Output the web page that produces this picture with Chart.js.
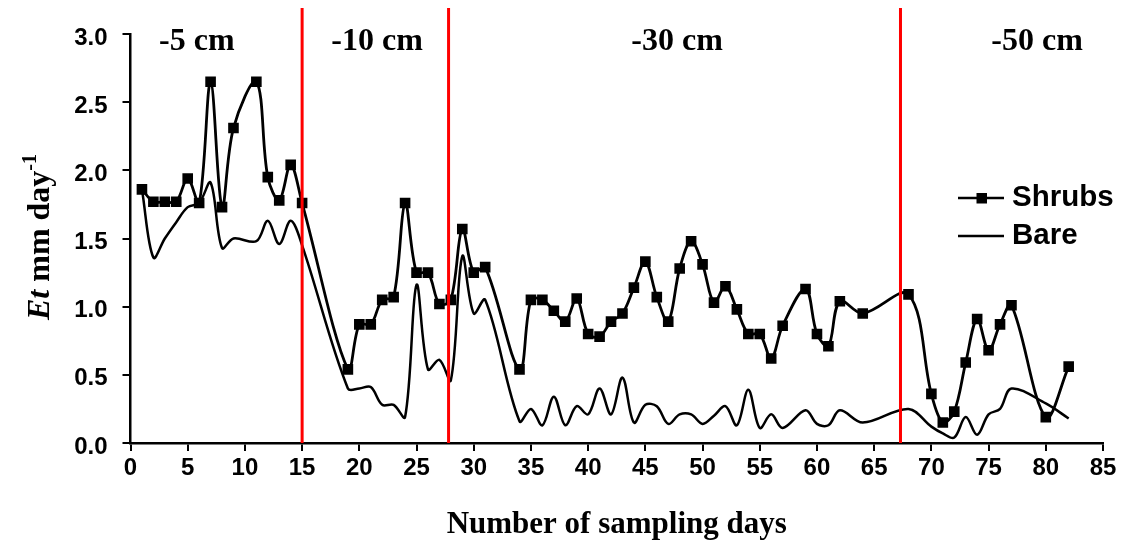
<!DOCTYPE html>
<html>
<head>
<meta charset="utf-8">
<script src="https://cdn.jsdelivr.net/npm/chart.js@4.4.1/dist/chart.umd.min.js"></script>
<style>
html,body{margin:0;padding:0;background:#ffffff;}
#wrap{width:1125px;height:540px;position:relative;}
</style>
</head>
<body>
<div id="wrap"><canvas id="c" width="1125" height="540"></canvas></div>
<script>
// ---- data ----
const shrubDays = [1,2,3,4,5,6,7,8,9,11,12,13,14,15,19,20,21,22,23,24,25,26,27,28,29,30,31,34,35,36,37,38,39,40,41,42,43,44,45,46,47,48,49,50,51,52,53,54,55,56,57,59,60,61,62,64,68,70,71,72,73,74,75,76,77,80,82];
const shrubValues = [1.86,1.77,1.77,1.77,1.94,1.76,2.65,1.73,2.31,2.65,1.95,1.78,2.04,1.76,0.54,0.87,0.87,1.05,1.07,1.76,1.25,1.25,1.02,1.05,1.57,1.25,1.29,0.54,1.05,1.05,0.97,0.89,1.06,0.80,0.78,0.89,0.95,1.14,1.33,1.07,0.89,1.28,1.48,1.31,1.03,1.15,0.98,0.80,0.80,0.62,0.86,1.13,0.80,0.71,1.04,0.95,1.09,0.36,0.15,0.23,0.59,0.91,0.68,0.87,1.01,0.19,0.56];
const bareDays = [1,2,3,4,5,6,7,8,9,11,12,13,14,15,19,20,21,22,23,24,25,26,27,28,29,30,31,34,35,36,37,38,39,40,41,42,43,44,45,46,47,48,49,50,51,52,53,54,55,56,57,59,60,61,62,64,68,70,71,72,73,74,75,76,77,80,82];
const bareValues = [1.86,1.36,1.50,1.62,1.73,1.76,1.91,1.43,1.50,1.48,1.63,1.46,1.63,1.45,0.40,0.40,0.41,0.28,0.28,0.19,1.16,0.54,0.61,0.46,1.37,0.95,1.05,0.16,0.25,0.13,0.34,0.13,0.27,0.21,0.40,0.21,0.48,0.15,0.28,0.27,0.14,0.21,0.21,0.14,0.20,0.27,0.13,0.39,0.11,0.21,0.11,0.24,0.14,0.13,0.24,0.15,0.25,0.12,0.07,0.04,0.19,0.06,0.21,0.25,0.40,0.29,0.18];
const seriesNames = ['Shrubs','Bare'];
const depthBoundaries = [15, 27.8, 67.3];
const depthLabels = ['-5 cm','-10 cm','-30 cm','-50 cm'];
const depthLabelDays = [5.8, 21.55, 47.77, 79.24];
const xTitle = 'Number of sampling days';

// ---- layout / style constants ----
const redLineTop = 3.19;

const boundaryDatasets = depthBoundaries.map(b => ({
  label: 'boundary',
  data: [{x: b, y: 0}, {x: b, y: redLineTop}],
  borderColor: '#ff0000',
  borderWidth: 3,
  pointRadius: 0,
  tension: 0,
  clip: false,
  order: 1
}));

const annotate = {
  id: 'annotate',
  afterDraw(chart) {
    const {ctx, scales: {x}} = chart;
    ctx.save();
    ctx.fillStyle = '#000';
    // depth labels
    ctx.font = 'bold 32px "Liberation Serif"';
    ctx.textAlign = 'center';
    ctx.textBaseline = 'alphabetic';
    depthLabels.forEach((t, i) => ctx.fillText(t, x.getPixelForValue(depthLabelDays[i]), 50));
    // legend
    ctx.strokeStyle = '#000';
    ctx.lineWidth = 2.6;
    ctx.beginPath(); ctx.moveTo(958, 198); ctx.lineTo(1004, 198); ctx.stroke();
    ctx.fillRect(976.5, 193, 10.5, 10.5);
    ctx.beginPath(); ctx.moveTo(958, 236); ctx.lineTo(1004, 236); ctx.stroke();
    ctx.font = 'bold 29.5px "Liberation Sans"';
    ctx.textAlign = 'left';
    ctx.fillText(seriesNames[0], 1012, 206);
    ctx.fillText(seriesNames[1], 1012, 244);
    // y-axis title
    ctx.translate(38, 237);
    ctx.rotate(-Math.PI / 2);
    const parts = [
      {t: 'Et', f: 'italic bold 32px "Liberation Serif"', dy: 0},
      {t: ' mm day', f: 'bold 32px "Liberation Serif"', dy: 0},
      {t: '-1', f: 'bold 20px "Liberation Serif"', dy: -13}
    ];
    let total = 0;
    parts.forEach(p => { ctx.font = p.f; p.w = ctx.measureText(p.t).width; total += p.w; });
    let cx = -total / 2;
    parts.forEach(p => { ctx.font = p.f; ctx.fillText(p.t, cx, 11 + p.dy); cx += p.w; });
    ctx.restore();
  }
};

new Chart(document.getElementById('c'), {
  type: 'line',
  data: {
    datasets: [
      ...boundaryDatasets,
      {
        label: seriesNames[0],
        data: shrubDays.map((d, i) => ({x: d, y: shrubValues[i]})),
        borderColor: '#000',
        borderWidth: 2.8,
        tension: 0.35,
        pointStyle: 'rect',
        pointRadius: 7.5,
        pointBackgroundColor: '#000',
        pointBorderWidth: 0,
        order: 2
      },
      {
        label: seriesNames[1],
        data: bareDays.map((d, i) => ({x: d, y: bareValues[i]})),
        borderColor: '#000',
        borderWidth: 2.5,
        tension: 0.35,
        pointRadius: 0,
        order: 3
      }
    ]
  },
  options: {
    responsive: false,
    animation: false,
    layout: {padding: {left: 0, right: 22, top: 34, bottom: 0}},
    plugins: {legend: {display: false}, tooltip: {enabled: false}},
    scales: {
      x: {
        type: 'linear', min: 0, max: 85,
        ticks: {stepSize: 5, color: '#000', padding: 3, maxRotation: 0,
                font: {family: '"Liberation Sans"', weight: 'bold', size: 24}},
        grid: {display: true, drawOnChartArea: false, drawTicks: true, tickLength: 8, color: '#000', lineWidth: 2},
        border: {display: true, color: '#000', width: 2.5},
        title: {display: true, text: xTitle, color: '#000', padding: {top: 0, bottom: -4},
                font: {family: '"Liberation Serif"', weight: 'bold', size: 31, lineHeight: 1.2}},
        afterFit: s => { s.height = 97; }
      },
      y: {
        type: 'linear', min: 0, max: 3,
        ticks: {stepSize: 0.5, color: '#000', padding: 15, labelOffset: 4,
                callback: v => v.toFixed(1),
                font: {family: '"Liberation Sans"', weight: 'bold', size: 24}},
        grid: {display: true, drawOnChartArea: false, drawTicks: true, tickLength: 8, color: '#000', lineWidth: 2},
        border: {display: true, color: '#000', width: 2.5},
        afterFit: s => { s.width = 130.5; }
      }
    }
  },
  plugins: [annotate]
});
</script>
</body>
</html>
